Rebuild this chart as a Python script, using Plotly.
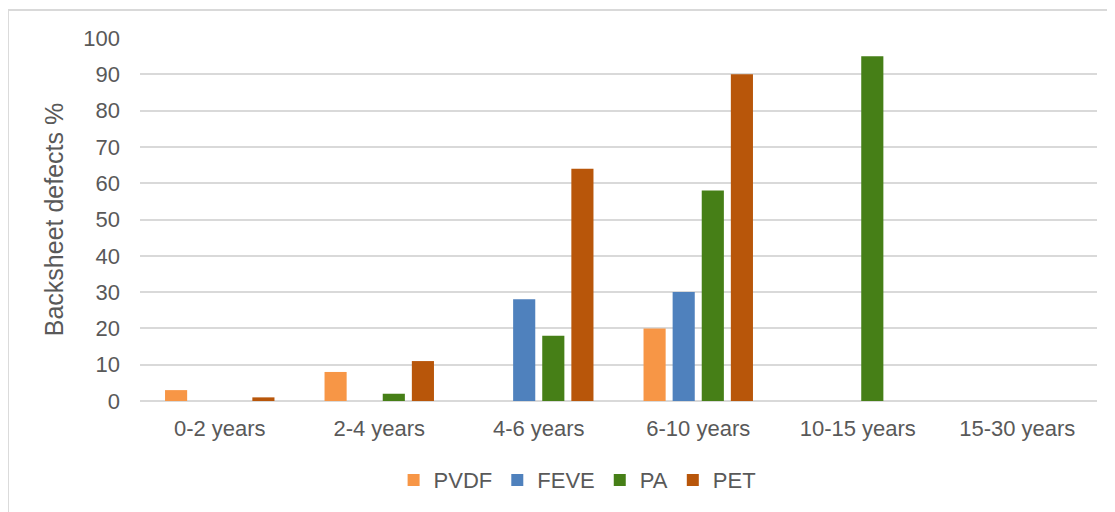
import plotly.graph_objects as go

categories = ["0-2 years", "2-4 years", "4-6 years", "6-10 years", "10-15 years", "15-30 years"]
pvdf = [3, 8, 0, 20, 0, 0]
feve = [0, 0, 28, 30, 0, 0]
pa = [0, 2, 18, 58, 95, 0]
pet = [1, 11, 64, 90, 0, 0]

series = [
    ("PVDF", pvdf, "#F79646"),
    ("FEVE", feve, "#4F81BD"),
    ("PA", pa, "#467F17"),
    ("PET", pet, "#B8560A"),
]

fig = go.Figure()
for name, vals, color in series:
    fig.add_trace(go.Bar(
        x=categories,
        y=vals,
        name=name,
        marker=dict(color=color, line=dict(width=0)),
    ))

fig.update_layout(
    width=1115,
    height=512,
    margin=dict(l=132, r=26, t=30, b=119),
    paper_bgcolor="white",
    plot_bgcolor="white",
    barmode="group",
    bargap=0.27,
    bargroupgap=0.24,
    font=dict(family="Liberation Sans, Arial, sans-serif", color="#595959", size=22),
    legend=dict(
        orientation="h",
        x=0.265,
        xanchor="left",
        y=-0.16,
        yanchor="top",
        font=dict(size=22, color="#595959"),
        itemwidth=30,
        traceorder="normal",
    ),
    yaxis=dict(
        range=[0, 100],
        dtick=10,
        showgrid=True,
        gridcolor="#D9D9D9",
        gridwidth=2,
        zeroline=True,
        zerolinecolor="#D9D9D9",
        zerolinewidth=2,
        ticks="",
        ticklabelstandoff=19,
        title=dict(text="Backsheet defects %", font=dict(size=25, color="#595959"), standoff=12),
    ),
    xaxis=dict(
        showgrid=False,
        showline=False,
        ticks="",
        ticklabelstandoff=12,
    ),
    shapes=[dict(
        type="rect",
        xref="paper",
        yref="paper",
        x0=-0.138,
        x1=1.0167,
        y0=-0.34,
        y1=1.077,
        line=dict(color="#D9D9D9", width=2),
        fillcolor="rgba(0,0,0,0)",
        layer="below",
    )],
)

fig.write_html("out.html")
